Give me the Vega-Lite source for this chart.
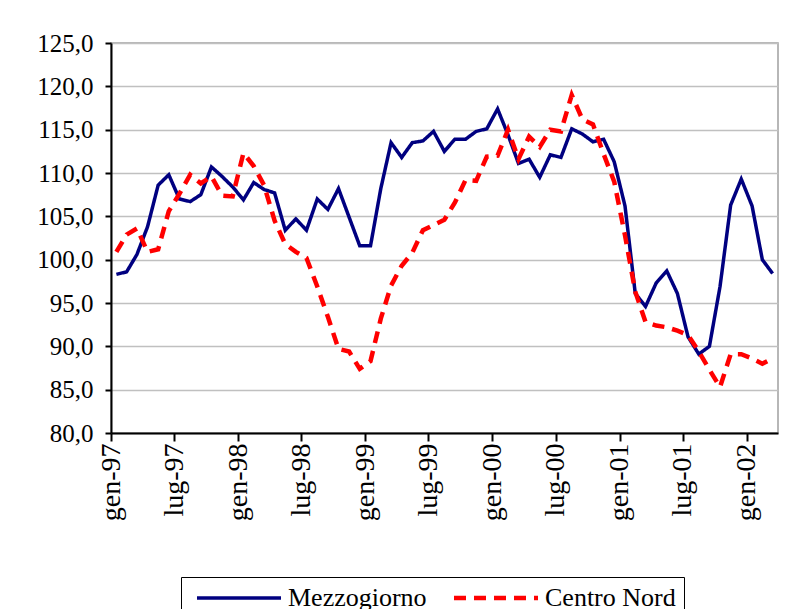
{
  "$schema": "https://vega.github.io/schema/vega-lite/v6.json",
  "width": 667,
  "height": 390,
  "autosize": {"type": "none"},
  "padding": {"left": 111, "top": 43, "right": 32, "bottom": 176},
  "background": "white",
  "config": {
    "view": {"stroke": "#a0a0a0", "strokeWidth": 1.5},
    "font": "Liberation Serif",
    "axis": {
      "labelFont": "Liberation Serif",
      "labelFontSize": 25,
      "labelColor": "black",
      "domainColor": "black",
      "domainWidth": 2,
      "tickColor": "black",
      "tickWidth": 2,
      "labelFlush": false,
      "labelOverlap": false,
      "title": null
    },
    "legend": {
      "labelFont": "Liberation Serif",
      "labelFontSize": 26,
      "labelColor": "black"
    }
  },
  "data": {
    "values": [
      {"month": "1997-01", "series": "Mezzogiorno", "value": 98.3},
      {"month": "1997-02", "series": "Mezzogiorno", "value": 98.6},
      {"month": "1997-03", "series": "Mezzogiorno", "value": 100.6},
      {"month": "1997-04", "series": "Mezzogiorno", "value": 103.8},
      {"month": "1997-05", "series": "Mezzogiorno", "value": 108.6},
      {"month": "1997-06", "series": "Mezzogiorno", "value": 109.8},
      {"month": "1997-07", "series": "Mezzogiorno", "value": 107.0},
      {"month": "1997-08", "series": "Mezzogiorno", "value": 106.7},
      {"month": "1997-09", "series": "Mezzogiorno", "value": 107.5},
      {"month": "1997-10", "series": "Mezzogiorno", "value": 110.7},
      {"month": "1997-11", "series": "Mezzogiorno", "value": 109.6},
      {"month": "1997-12", "series": "Mezzogiorno", "value": 108.4},
      {"month": "1998-01", "series": "Mezzogiorno", "value": 106.9},
      {"month": "1998-02", "series": "Mezzogiorno", "value": 108.9},
      {"month": "1998-03", "series": "Mezzogiorno", "value": 108.1},
      {"month": "1998-04", "series": "Mezzogiorno", "value": 107.7},
      {"month": "1998-05", "series": "Mezzogiorno", "value": 103.4},
      {"month": "1998-06", "series": "Mezzogiorno", "value": 104.7},
      {"month": "1998-07", "series": "Mezzogiorno", "value": 103.4},
      {"month": "1998-08", "series": "Mezzogiorno", "value": 107.0},
      {"month": "1998-09", "series": "Mezzogiorno", "value": 105.8},
      {"month": "1998-10", "series": "Mezzogiorno", "value": 108.2},
      {"month": "1998-11", "series": "Mezzogiorno", "value": 104.9},
      {"month": "1998-12", "series": "Mezzogiorno", "value": 101.6},
      {"month": "1999-01", "series": "Mezzogiorno", "value": 101.6},
      {"month": "1999-02", "series": "Mezzogiorno", "value": 108.2},
      {"month": "1999-03", "series": "Mezzogiorno", "value": 113.5},
      {"month": "1999-04", "series": "Mezzogiorno", "value": 111.8},
      {"month": "1999-05", "series": "Mezzogiorno", "value": 113.5},
      {"month": "1999-06", "series": "Mezzogiorno", "value": 113.7},
      {"month": "1999-07", "series": "Mezzogiorno", "value": 114.8},
      {"month": "1999-08", "series": "Mezzogiorno", "value": 112.5},
      {"month": "1999-09", "series": "Mezzogiorno", "value": 113.9},
      {"month": "1999-10", "series": "Mezzogiorno", "value": 113.9},
      {"month": "1999-11", "series": "Mezzogiorno", "value": 114.8},
      {"month": "1999-12", "series": "Mezzogiorno", "value": 115.1},
      {"month": "2000-01", "series": "Mezzogiorno", "value": 117.4},
      {"month": "2000-02", "series": "Mezzogiorno", "value": 114.4},
      {"month": "2000-03", "series": "Mezzogiorno", "value": 111.1},
      {"month": "2000-04", "series": "Mezzogiorno", "value": 111.6},
      {"month": "2000-05", "series": "Mezzogiorno", "value": 109.5},
      {"month": "2000-06", "series": "Mezzogiorno", "value": 112.1},
      {"month": "2000-07", "series": "Mezzogiorno", "value": 111.8},
      {"month": "2000-08", "series": "Mezzogiorno", "value": 115.1},
      {"month": "2000-09", "series": "Mezzogiorno", "value": 114.5},
      {"month": "2000-10", "series": "Mezzogiorno", "value": 113.6},
      {"month": "2000-11", "series": "Mezzogiorno", "value": 113.9},
      {"month": "2000-12", "series": "Mezzogiorno", "value": 111.3},
      {"month": "2001-01", "series": "Mezzogiorno", "value": 106.2},
      {"month": "2001-02", "series": "Mezzogiorno", "value": 96.1},
      {"month": "2001-03", "series": "Mezzogiorno", "value": 94.6},
      {"month": "2001-04", "series": "Mezzogiorno", "value": 97.3},
      {"month": "2001-05", "series": "Mezzogiorno", "value": 98.7},
      {"month": "2001-06", "series": "Mezzogiorno", "value": 96.1},
      {"month": "2001-07", "series": "Mezzogiorno", "value": 91.1},
      {"month": "2001-08", "series": "Mezzogiorno", "value": 89.1},
      {"month": "2001-09", "series": "Mezzogiorno", "value": 90.0},
      {"month": "2001-10", "series": "Mezzogiorno", "value": 96.9},
      {"month": "2001-11", "series": "Mezzogiorno", "value": 106.3},
      {"month": "2001-12", "series": "Mezzogiorno", "value": 109.3},
      {"month": "2002-01", "series": "Mezzogiorno", "value": 106.2},
      {"month": "2002-02", "series": "Mezzogiorno", "value": 100.0},
      {"month": "2002-03", "series": "Mezzogiorno", "value": 98.4},
      {"month": "1997-01", "series": "Centro Nord", "value": 100.9},
      {"month": "1997-02", "series": "Centro Nord", "value": 102.9},
      {"month": "1997-03", "series": "Centro Nord", "value": 103.6},
      {"month": "1997-04", "series": "Centro Nord", "value": 100.9},
      {"month": "1997-05", "series": "Centro Nord", "value": 101.2},
      {"month": "1997-06", "series": "Centro Nord", "value": 105.6},
      {"month": "1997-07", "series": "Centro Nord", "value": 107.6},
      {"month": "1997-08", "series": "Centro Nord", "value": 109.8},
      {"month": "1997-09", "series": "Centro Nord", "value": 108.8},
      {"month": "1997-10", "series": "Centro Nord", "value": 109.6},
      {"month": "1997-11", "series": "Centro Nord", "value": 107.4},
      {"month": "1997-12", "series": "Centro Nord", "value": 107.3},
      {"month": "1998-01", "series": "Centro Nord", "value": 112.3},
      {"month": "1998-02", "series": "Centro Nord", "value": 110.8},
      {"month": "1998-03", "series": "Centro Nord", "value": 108.6},
      {"month": "1998-04", "series": "Centro Nord", "value": 104.5},
      {"month": "1998-05", "series": "Centro Nord", "value": 101.8},
      {"month": "1998-06", "series": "Centro Nord", "value": 100.9},
      {"month": "1998-07", "series": "Centro Nord", "value": 100.2},
      {"month": "1998-08", "series": "Centro Nord", "value": 96.9},
      {"month": "1998-09", "series": "Centro Nord", "value": 93.4},
      {"month": "1998-10", "series": "Centro Nord", "value": 89.7},
      {"month": "1998-11", "series": "Centro Nord", "value": 89.4},
      {"month": "1998-12", "series": "Centro Nord", "value": 87.4},
      {"month": "1999-01", "series": "Centro Nord", "value": 88.3},
      {"month": "1999-02", "series": "Centro Nord", "value": 93.2},
      {"month": "1999-03", "series": "Centro Nord", "value": 97.0},
      {"month": "1999-04", "series": "Centro Nord", "value": 99.3},
      {"month": "1999-05", "series": "Centro Nord", "value": 100.8},
      {"month": "1999-06", "series": "Centro Nord", "value": 103.4},
      {"month": "1999-07", "series": "Centro Nord", "value": 104.0},
      {"month": "1999-08", "series": "Centro Nord", "value": 104.6},
      {"month": "1999-09", "series": "Centro Nord", "value": 106.6},
      {"month": "1999-10", "series": "Centro Nord", "value": 109.2},
      {"month": "1999-11", "series": "Centro Nord", "value": 109.1},
      {"month": "1999-12", "series": "Centro Nord", "value": 111.9},
      {"month": "2000-01", "series": "Centro Nord", "value": 112.0},
      {"month": "2000-02", "series": "Centro Nord", "value": 115.0},
      {"month": "2000-03", "series": "Centro Nord", "value": 111.6},
      {"month": "2000-04", "series": "Centro Nord", "value": 114.2},
      {"month": "2000-05", "series": "Centro Nord", "value": 113.0},
      {"month": "2000-06", "series": "Centro Nord", "value": 115.0},
      {"month": "2000-07", "series": "Centro Nord", "value": 114.8},
      {"month": "2000-08", "series": "Centro Nord", "value": 119.0},
      {"month": "2000-09", "series": "Centro Nord", "value": 116.2},
      {"month": "2000-10", "series": "Centro Nord", "value": 115.6},
      {"month": "2000-11", "series": "Centro Nord", "value": 112.2},
      {"month": "2000-12", "series": "Centro Nord", "value": 109.0},
      {"month": "2001-01", "series": "Centro Nord", "value": 102.8},
      {"month": "2001-02", "series": "Centro Nord", "value": 96.3},
      {"month": "2001-03", "series": "Centro Nord", "value": 92.8},
      {"month": "2001-04", "series": "Centro Nord", "value": 92.4},
      {"month": "2001-05", "series": "Centro Nord", "value": 92.2},
      {"month": "2001-06", "series": "Centro Nord", "value": 91.8},
      {"month": "2001-07", "series": "Centro Nord", "value": 91.3},
      {"month": "2001-08", "series": "Centro Nord", "value": 89.4},
      {"month": "2001-09", "series": "Centro Nord", "value": 87.3},
      {"month": "2001-10", "series": "Centro Nord", "value": 85.3},
      {"month": "2001-11", "series": "Centro Nord", "value": 89.1},
      {"month": "2001-12", "series": "Centro Nord", "value": 89.1},
      {"month": "2002-01", "series": "Centro Nord", "value": 88.6},
      {"month": "2002-02", "series": "Centro Nord", "value": 88.0},
      {"month": "2002-03", "series": "Centro Nord", "value": 88.6}
    ]
  },
  "mark": {"type": "line", "strokeCap": "butt", "strokeJoin": "miter"},
  "encoding": {
    "x": {
      "field": "month",
      "type": "temporal",
      "timeUnit": "utcyearmonth",
      "bandPosition": 0.5,
      "scale": {
        "domain": [
          {"year": 1997, "month": 1, "date": 1, "utc": true},
          {"year": 2002, "month": 4, "date": 1, "utc": true}
        ]
      },
      "axis": {
        "values": [
          {"year": 1997, "month": 1, "date": 1, "utc": true},
          {"year": 1997, "month": 7, "date": 1, "utc": true},
          {"year": 1998, "month": 1, "date": 1, "utc": true},
          {"year": 1998, "month": 7, "date": 1, "utc": true},
          {"year": 1999, "month": 1, "date": 1, "utc": true},
          {"year": 1999, "month": 7, "date": 1, "utc": true},
          {"year": 2000, "month": 1, "date": 1, "utc": true},
          {"year": 2000, "month": 7, "date": 1, "utc": true},
          {"year": 2001, "month": 1, "date": 1, "utc": true},
          {"year": 2001, "month": 7, "date": 1, "utc": true},
          {"year": 2002, "month": 1, "date": 1, "utc": true}
        ],
        "labelExpr": "(utcmonth(datum.value) == 0 ? 'gen' : 'lug') + '-' + utcFormat(datum.value, '%y')",
        "labelAngle": 270,
        "labelFontSize": 28,
        "labelPadding": 2,
        "tickSize": 8,
        "grid": false,
        "title": null
      }
    },
    "y": {
      "field": "value",
      "type": "quantitative",
      "scale": {"domain": [80, 125], "nice": false, "zero": false},
      "axis": {
        "values": [80, 85, 90, 95, 100, 105, 110, 115, 120, 125],
        "labelExpr": "replace(format(datum.value, '.1f'), '.', ',')",
        "grid": true,
        "gridColor": "#c0c0c0",
        "gridWidth": 1.5,
        "tickSize": 6,
        "labelPadding": 12,
        "title": null
      }
    },
    "color": {
      "field": "series",
      "type": "nominal",
      "scale": {"domain": ["Mezzogiorno", "Centro Nord"], "range": ["#000080", "#ff0000"]},
      "legend": {
        "title": null,
        "orient": "none",
        "legendX": 70,
        "legendY": 534,
        "direction": "horizontal",
        "strokeColor": "black",
        "padding": 8,
        "symbolType": "M-6,0H6",
        "symbolSize": 196,
        "symbolStrokeWidth": 4,
        "symbolOffset": 37,
        "labelOffset": 36,
        "columnPadding": 18,
        "labelLimit": 300
      }
    },
    "strokeDash": {
      "field": "series",
      "type": "nominal",
      "scale": {"domain": ["Mezzogiorno", "Centro Nord"], "range": [[1, 0], [12, 8]]},
      "legend": {
        "title": null,
        "orient": "none",
        "legendX": 70,
        "legendY": 534,
        "direction": "horizontal",
        "strokeColor": "black",
        "padding": 8,
        "symbolType": "M-6,0H6",
        "symbolSize": 196,
        "symbolStrokeWidth": 4,
        "symbolOffset": 37,
        "labelOffset": 36,
        "columnPadding": 18,
        "labelLimit": 300
      }
    },
    "strokeWidth": {
      "field": "series",
      "type": "nominal",
      "scale": {"domain": ["Mezzogiorno", "Centro Nord"], "range": [3.5, 4.5]},
      "legend": null
    },
    "order": {"field": "month", "type": "temporal"}
  }
}
